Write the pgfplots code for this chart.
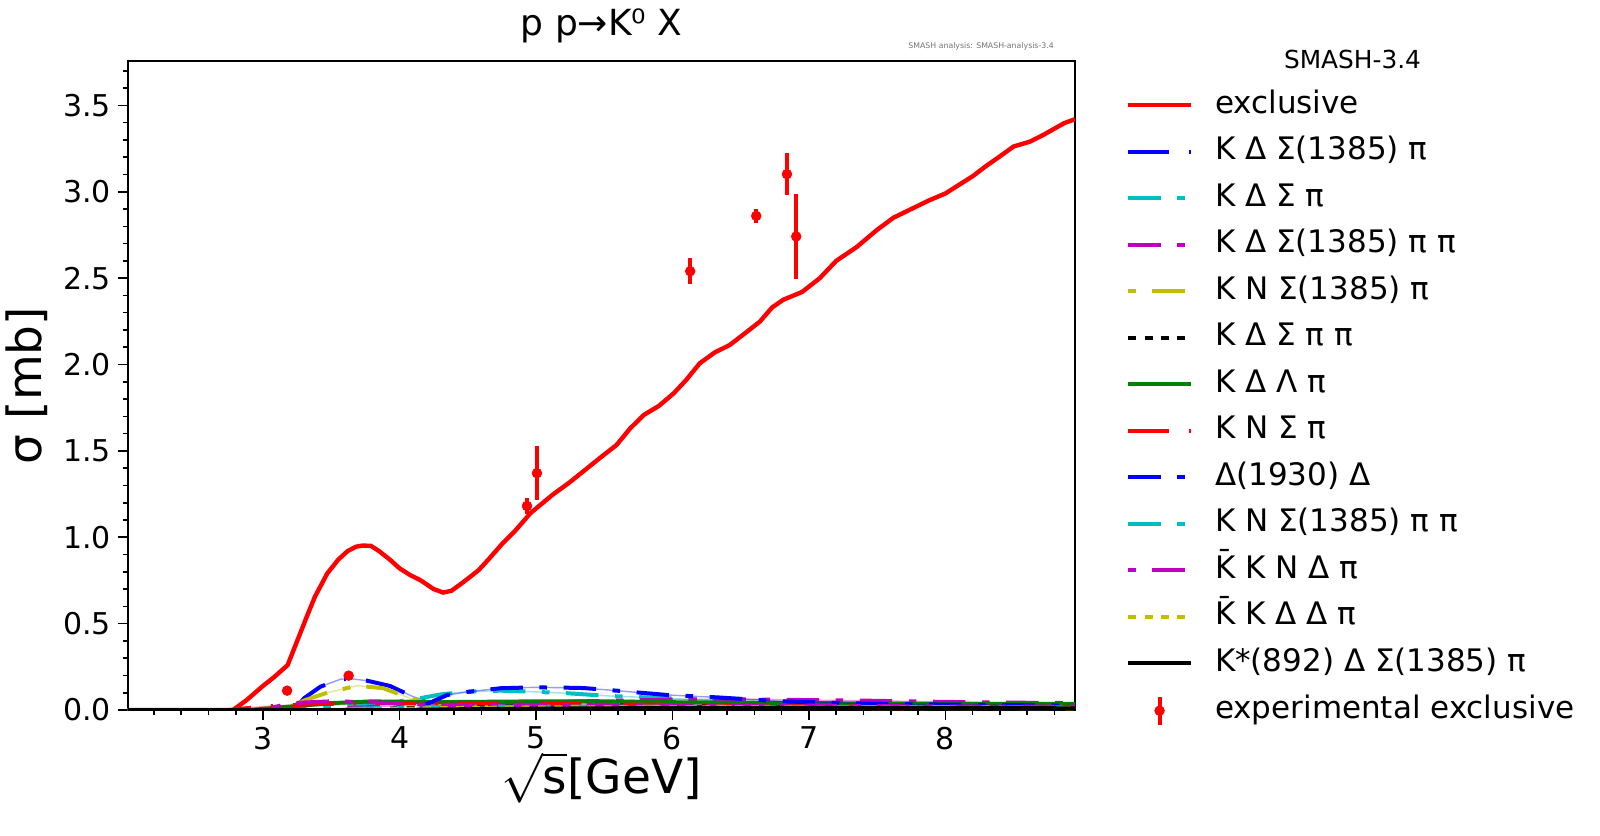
\documentclass[border=0pt]{standalone}
\usepackage{pgfplots}
\pgfplotsset{compat=1.18}
\usepackage{pgfplotstable}
\usepackage{fontspec}
\setmainfont{DejaVu Sans}
\definecolor{mb}{rgb}{0,0,1}
\definecolor{mc}{rgb}{0,0.75,0.75}
\definecolor{mm}{rgb}{0.75,0,0.75}
\definecolor{my}{rgb}{0.75,0.75,0}
\definecolor{mg}{rgb}{0,0.5,0}
\definecolor{mr}{rgb}{1,0,0}

\pgfplotstableread{
x y
2.01 0
2.78 0
2.88 0.058
3.00 0.14
3.08 0.19
3.18 0.26
3.25 0.40
3.32 0.54
3.38 0.656
3.47 0.79
3.55 0.87
3.62 0.92
3.68 0.945
3.73 0.952
3.79 0.95
3.85 0.92
3.93 0.87
4.00 0.82
4.08 0.78
4.15 0.753
4.25 0.70
4.32 0.68
4.38 0.69
4.45 0.73
4.50 0.76
4.58 0.81
4.65 0.87
4.75 0.96
4.85 1.04
4.96 1.14
5.12 1.245
5.25 1.32
5.36 1.39
5.47 1.46
5.59 1.534
5.69 1.63
5.79 1.708
5.90 1.76
6.01 1.834
6.10 1.91
6.20 2.007
6.31 2.07
6.42 2.113
6.53 2.18
6.64 2.248
6.73 2.33
6.81 2.374
6.95 2.42
7.08 2.50
7.20 2.60
7.35 2.68
7.50 2.78
7.62 2.85
7.75 2.90
7.88 2.95
8.00 2.99
8.10 3.04
8.20 3.09
8.30 3.15
8.38 3.194
8.50 3.262
8.62 3.29
8.72 3.33
8.87 3.397
8.95 3.42
}\excl

\pgfplotstableread{
x y
2.01 0
3.20 0
3.25 0.02
3.30 0.068
3.42 0.135
3.57 0.179
3.65 0.18
3.76 0.170
3.93 0.139
4.10 0.077
4.25 0.04
4.40 0.03
5.00 0.025
6.00 0.02
7.00 0.015
8.00 0.012
8.95 0.01
}\sA

\pgfplotstableread{
x y
2.01 0
3.05 0
3.30 0.02
3.70 0.035
4.00 0.05
4.15 0.068
4.30 0.09
4.49 0.106
4.74 0.112
5.00 0.105
5.23 0.097
5.54 0.081
5.90 0.07
6.30 0.055
7.00 0.04
8.00 0.03
8.95 0.025
}\sB

\pgfplotstableread{
x y
2.01 0
3.40 0
3.60 0.01
4.00 0.025
5.00 0.045
6.00 0.06
6.44 0.063
6.93 0.058
7.42 0.054
7.90 0.048
8.40 0.043
8.95 0.04
}\sC

\pgfplotstableread{
x y
2.01 0
2.96 0
3.20 0.02
3.31 0.058
3.47 0.10
3.69 0.141
3.88 0.126
4.08 0.068
4.25 0.029
4.50 0.02
5.50 0.015
7.00 0.012
8.95 0.01
}\sD

\pgfplotstableread{
x y
2.01 0
3.60 0
4.00 0.01
5.00 0.025
6.00 0.03
7.00 0.028
8.00 0.022
8.95 0.02
}\sE

\pgfplotstableread{
x y
2.01 0
2.90 0
3.20 0.02
3.50 0.04
3.80 0.05
4.20 0.045
5.00 0.05
5.50 0.05
6.00 0.045
7.00 0.04
8.00 0.035
8.95 0.035
}\sF

\pgfplotstableread{
x y
2.01 0
2.75 0
3.00 0.02
3.40 0.035
4.00 0.04
4.50 0.04
5.00 0.035
6.00 0.03
7.00 0.025
8.00 0.02
8.95 0.018
}\sG

\pgfplotstableread{
x y
2.01 0
4.10 0
4.35 0.087
4.50 0.105
4.74 0.126
4.98 0.131
5.23 0.129
5.35 0.127
5.59 0.112
5.96 0.087
6.33 0.073
6.80 0.05
7.50 0.035
8.20 0.03
8.95 0.025
}\sH

\pgfplotstableread{
x y
2.01 0
3.30 0
3.80 0.01
4.50 0.02
5.50 0.02
7.00 0.018
8.95 0.015
}\sI

\pgfplotstableread{
x y
2.01 0
3.00 0
3.20 0.04
3.50 0.05
3.80 0.045
4.20 0.03
5.00 0.03
6.00 0.028
7.00 0.025
8.00 0.02
8.95 0.02
}\sJ

\pgfplotstableread{
x y
2.01 0
3.60 0
4.20 0.01
5.00 0.015
6.50 0.015
8.95 0.012
}\sK

\pgfplotstableread{
x y
2.01 0
4.00 0
4.50 0.005
5.50 0.01
7.00 0.012
8.95 0.01
}\sL

\pgfplotstableread{
x y e
3.176 0.112 0.012
3.627 0.199 0.010
4.934 1.181 0.045
5.007 1.371 0.156
6.130 2.540 0.075
6.614 2.860 0.039
6.839 3.102 0.120
6.907 2.741 0.248
}\expd

\tikzset{
  pA/.style={dash pattern=on 16.2pt off 8.3pt on 3.8pt off 8.3pt},
  pB/.style={dash pattern=on 20.3pt off 10pt on 1pt off 10pt},
  pC/.style={dash pattern=on 4pt off 8pt on 16.3pt off 8pt},
  pD/.style={dash pattern=on 4pt off 4.2pt},
}

\begin{document}
\begin{tikzpicture}
\begin{axis}[name=ax,
  scale only axis, width=473.5pt, height=324.5pt,
  xmin=2.01, xmax=8.95, ymin=0, ymax=3.757,
  xtick={3,4,5,6,7,8}, minor xtick={2.2,2.4,...,8.8},
  ytick={0,0.5,...,3.5}, minor ytick={0.1,0.2,...,3.7},
  tick align=outside, tick pos=left,
  major tick length=5pt, minor tick length=2.6pt,
  every tick/.style={line width=0.8pt, black},
  axis line style={line width=1pt},
  /pgf/number format/assume math mode=true,
  ticklabel style={font=\fontsize{15}{18}\selectfont},
  yticklabel style={/pgf/number format/fixed, /pgf/number format/precision=1, /pgf/number format/fixed zerofill},
  xticklabel style={/pgf/number format/fixed, /pgf/number format/precision=0},
  xlabel={$\sqrt{\mathrm{s}}$[GeV]},
  xlabel style={at={(axis description cs:0.5,-0.128)}, anchor=base, font=\fontsize{23.5}{26}\selectfont},
  ylabel={σ [mb]},
  ylabel style={at={(axis description cs:-0.1067,0.5)}, anchor=center, font=\fontsize{23.5}{26}\selectfont},
  every axis title shift=0pt,
  title={p p→K⁰ X},
  title style={at={(axis description cs:0.5,1.039)}, anchor=base, font=\fontsize{18}{21}\selectfont},
  legend image code/.code={\draw[#1] (0pt,0pt) -- (31.3pt,0pt);},
  legend cell align=left,
  legend style={at={(axis description cs:1.0539,0.955)}, anchor=north west, draw=none, fill=none,
    inner sep=0pt, outer sep=0pt, row sep=8.25pt, column sep=11pt,
    font=\fontsize{15.5}{18}\selectfont,
    nodes={inner sep=0pt, text height=11.5pt, text depth=3.5pt}},
  extra description/.code={
    \node[anchor=base, font=\fontsize{12.4}{14}\selectfont] at (1.293,0.988) {SMASH-3.4};
    \node[anchor=base east, font=\fontsize{3.9}{4.5}\selectfont, text=black!55] at (0.985,1.020) {SMASH analysis: SMASH-analysis-3.4};
  },
]
% exclusive
\addplot[mr, line width=2.2pt] table {\excl}; \addlegendentry{exclusive}
% KDS1385pi
\addplot[mb, line width=0.7pt, opacity=0.4, forget plot] table {\sA};
\addplot[mb, line width=2pt, pB] table {\sA}; \addlegendentry{K Δ Σ(1385) π}
% KDSpi
\addplot[mc, line width=0.7pt, opacity=0.4, forget plot] table {\sB};
\addplot[mc, line width=2pt, pA] table {\sB}; \addlegendentry{K Δ Σ π}
% KDS1385pipi
\addplot[mm, line width=0.7pt, opacity=0.4, forget plot] table {\sC};
\addplot[mm, line width=2pt, pA] table {\sC}; \addlegendentry{K Δ Σ(1385) π π}
% KNS1385pi
\addplot[my, line width=0.7pt, opacity=0.4, forget plot] table {\sD};
\addplot[my, line width=2pt, pC] table {\sD}; \addlegendentry{K N Σ(1385) π}
% KDSpipi
\addplot[black, line width=2pt, pD] table {\sE}; \addlegendentry{K Δ Σ π π}
% KDLpi
\addplot[mg, line width=2pt] table {\sF}; \addlegendentry{K Δ Λ π}
% KNSpi
\addplot[mr, line width=0.7pt, opacity=0.4, forget plot] table {\sG};
\addplot[mr, line width=2pt, pB] table {\sG}; \addlegendentry{K N Σ π}
% D1930 D
\addplot[mb, line width=0.7pt, opacity=0.4, forget plot] table {\sH};
\addplot[mb, line width=2pt, pA] table {\sH}; \addlegendentry{Δ(1930) Δ}
% KNS1385pipi
\addplot[mc, line width=2pt, pA] table {\sI}; \addlegendentry{K N Σ(1385) π π}
% KbarKNDpi
\addplot[mm, line width=2pt, pC] table {\sJ}; \addlegendentry{K̄ K N Δ π}
% KbarKDDpi
\addplot[my, line width=2pt, pD] table {\sK}; \addlegendentry{K̄ K Δ Δ π}
% K*892
\addplot[black, line width=2pt] table {\sL}; \addlegendentry{K*(892) Δ Σ(1385) π}
% experimental
\addplot[mr, only marks, mark=*, mark size=2.4pt,
  legend image code/.code={\draw[mr, line width=2pt] (15.65pt,-7pt) -- (15.65pt,7pt); \fill[mr] (15.65pt,0pt) circle (2.4pt);},
  error bars/.cd, y dir=both, y explicit, error mark=none,
  error bar style={line width=2pt, mr}]
  table[x=x, y=y, y error=e] {\expd};
\addlegendentry{experimental exclusive}
\end{axis}
\pgfresetboundingbox
\path ([xshift=-64pt, yshift=-62.5pt]ax.south west) rectangle ([xshift=262.5pt, yshift=30.5pt]ax.north east);
\end{tikzpicture}
\end{document}
